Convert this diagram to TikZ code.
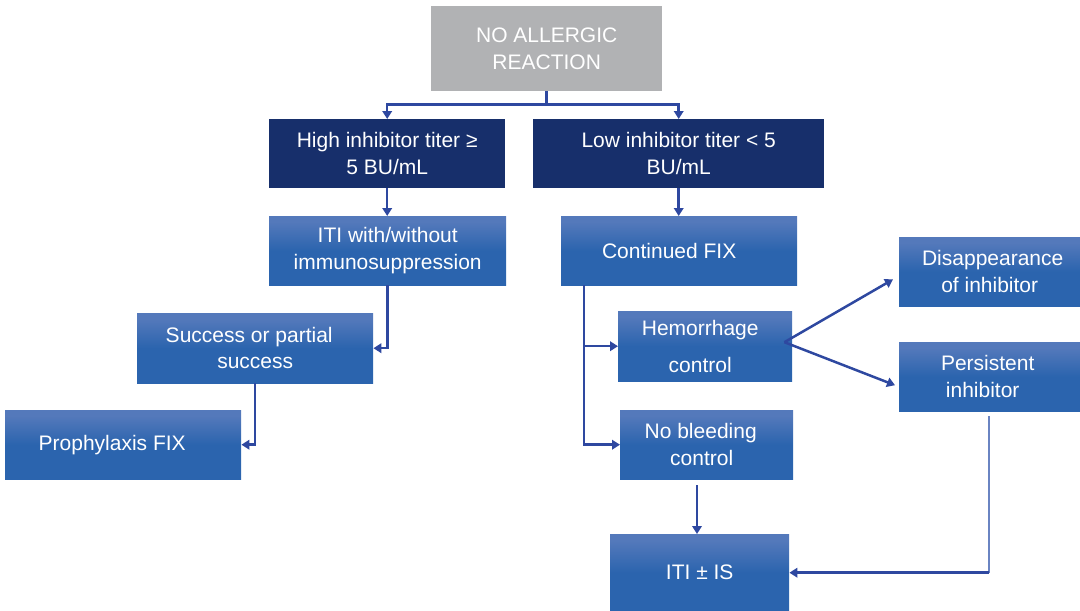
\documentclass[tikz,border=0pt]{standalone}
\usepackage{fontspec}
\setmainfont{Liberation Sans}
\usetikzlibrary{arrows.meta}

\definecolor{boxtop}{HTML}{5479BB}
\definecolor{boxbot}{HTML}{2B64AE}
\definecolor{navyfill}{HTML}{172F6B}
\definecolor{greyfill}{HTML}{B1B2B4}
\definecolor{linkblue}{HTML}{2E48A0}
\definecolor{linklight}{HTML}{6A84C2}

% blue boxes: light band at the top fading into a solid lower half
\pgfdeclareverticalshading{flowshade}{100bp}{color(0bp)=(boxbot); color(50bp)=(boxbot); color(71bp)=(boxtop); color(100bp)=(boxtop)}

\begin{document}
\begin{tikzpicture}[x=1pt,y=-1pt,
  basebox/.style={rectangle, inner sep=0pt, anchor=north west, align=center,
    text=white, font=\fontsize{21}{26.5}\selectfont},
  bluebox/.style={basebox, shading=flowshade},
  navybox/.style={basebox, fill=navyfill},
  topbox/.style={basebox, fill=greyfill},
  link/.style={draw=linkblue, line width=2.5pt, -{Triangle[width=9.5pt,length=8pt]}},
  thinlink/.style={draw=linklight, line width=1.5pt},
]
\useasboundingbox (0,0) rectangle (1080,611);

% boxes
\node[topbox, minimum width=231pt, minimum height=85pt] (top) at (431,6) {NO ALLERGIC\\REACTION};
\node[navybox, minimum width=236pt, minimum height=69pt] (high) at (269,119) {High inhibitor titer ≥\\5 BU/mL};
\node[navybox, minimum width=291pt, minimum height=69pt] (low) at (533,119) {Low inhibitor titer < 5\\BU/mL};
\node[bluebox, minimum width=237pt, minimum height=69pt] (iti) at (269,216) {ITI with/without\\immunosuppression};
\node[bluebox, minimum width=236pt, minimum height=69pt] (cont) at (561,216) {Continued FIX\hspace*{20pt}};
\node[bluebox, minimum width=236pt, minimum height=70pt] (succ) at (137,313) {Success or partial\hspace*{12pt}\\success};
\node[bluebox, minimum width=236pt, minimum height=69pt] (proph) at (5,410) {Prophylaxis FIX\hspace*{22pt}};
\node[bluebox, minimum width=174pt, minimum height=70pt, font=\fontsize{21}{37}\selectfont] (hem) at (618,311) {Hemorrhage\hspace*{10pt}\\control\hspace*{10pt}};
\node[bluebox, minimum width=173pt, minimum height=69pt] (nobleed) at (620,410) {No bleeding\hspace*{12pt}\\control\hspace*{10pt}};
\node[bluebox, minimum width=181pt, minimum height=69pt] (disap) at (899,237) {\hspace*{6pt}Disappearance\\of inhibitor};
\node[bluebox, minimum width=181pt, minimum height=69pt] (pers) at (899,342) {Persistent\hspace*{4pt}\\inhibitor\hspace*{14pt}};
\node[bluebox, minimum width=179pt, minimum height=77pt] (itis) at (610,534) {ITI ± IS};

% helper points for the connectors
\path (top.south) ++(0,13) coordinate (tsplit);
\path (cont.south west) ++(23,0) coordinate (cstem);
\path (hem.east) ++(-8,-4) coordinate (hfork);
\path (disap.south west) ++(-6,-27) coordinate (dtip);
\path (pers.west) ++(-4,8.5) coordinate (ptip);
\path (nobleed.south west) ++(77,6) coordinate (nbout);
\path (pers.south west) ++(90,5) coordinate (pout);

% connectors
\draw[link] (top.south) -- (tsplit) -| (high.north);
\draw[link] (tsplit) -| (low.north);
\draw[link] (high.south) -- (high.south |- iti.north);
\draw[link] (low.south) -- (low.south |- cont.north);
\draw[link] (iti.south) |- (succ.east);
\draw[link] (succ.south) |- (proph.east);
\draw[link] (cstem) |- (hem.west);
\draw[link] (cstem) |- (nobleed.west);
\draw[link] (hfork) -- (dtip);
\draw[link] (hfork) -- (ptip);
\draw[link] (nbout) -- (nbout |- itis.north);
\draw[thinlink] (pout) -- (pout |- itis.east) coordinate (pcorner);
\draw[link] (pcorner) -- (itis.east);
\end{tikzpicture}
\end{document}
